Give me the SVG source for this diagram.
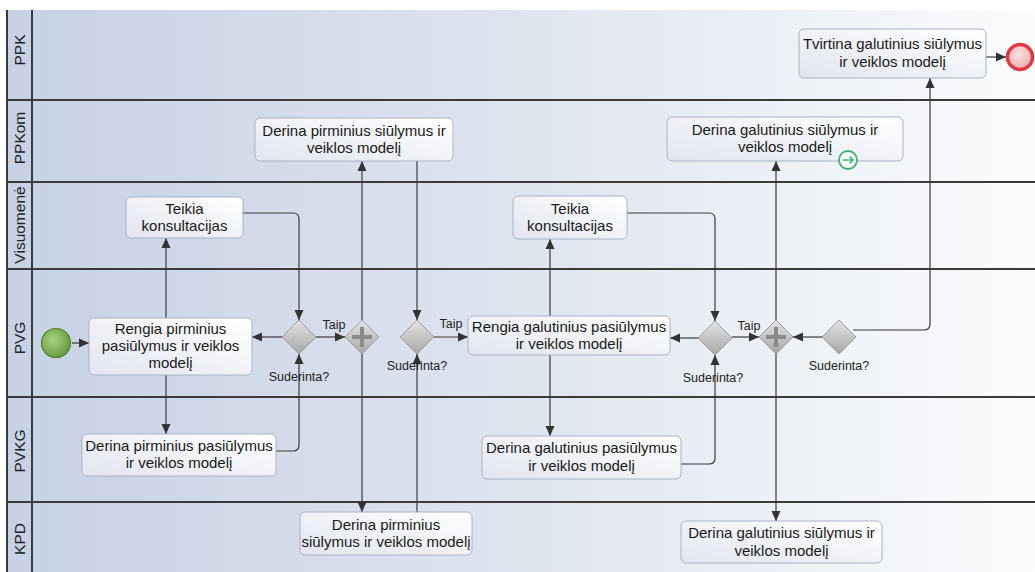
<svg xmlns="http://www.w3.org/2000/svg" width="1035" height="572" viewBox="0 0 1035 572">
<defs>
<linearGradient id="bg" x1="0" y1="0" x2="1" y2="0">
<stop offset="0" stop-color="#c6d1e4"/>
<stop offset="0.5" stop-color="#dfe5ef"/>
<stop offset="1" stop-color="#fbfcfd"/>
</linearGradient>
<linearGradient id="task" x1="0" y1="1" x2="1" y2="0">
<stop offset="0" stop-color="#e2e5f0"/>
<stop offset="1" stop-color="#ffffff"/>
</linearGradient>
<linearGradient id="gw" x1="0" y1="0" x2="0" y2="1">
<stop offset="0" stop-color="#e4e4e4"/>
<stop offset="1" stop-color="#a6a6a6"/>
</linearGradient>
<radialGradient id="startG" cx="0.4" cy="0.4" r="0.65">
<stop offset="0" stop-color="#a9d181"/>
<stop offset="1" stop-color="#64993a"/>
</radialGradient>
<radialGradient id="endG" cx="0.45" cy="0.4" r="0.65">
<stop offset="0" stop-color="#fbe3e5"/>
<stop offset="1" stop-color="#e7a6ab"/>
</radialGradient>
<marker id="arr" markerUnits="userSpaceOnUse" markerWidth="10" markerHeight="10" refX="10" refY="5" orient="auto">
<path d="M0,0.5 L10,5 L0,9.5 z" fill="#333"/>
</marker>
</defs>
<style>
.lane{stroke:#3a3a3a;stroke-width:2;fill:none}
.lbl{font-family:"Liberation Sans",Arial,sans-serif;font-size:15.5px;fill:#222;text-anchor:middle}
.t{font-family:"Liberation Sans",Arial,sans-serif;font-size:15px;fill:#1a1a1a;text-anchor:middle}
.s{font-family:"Liberation Sans",Arial,sans-serif;font-size:12.5px;fill:#222;text-anchor:middle}
.box{fill:url(#task);stroke:#aab2c4;stroke-width:1}
.gw{fill:url(#gw);stroke:#9c9c9c;stroke-width:1}
.plus{stroke:#8a8a8a;stroke-width:4;fill:none}
.c{fill:none;stroke:#3a3a3a;stroke-width:1.2;marker-end:url(#arr)}
</style>
<rect x="0" y="0" width="1035" height="572" fill="#ffffff"/>
<rect x="7" y="10" width="1040" height="570" fill="url(#bg)"/>
<g id="pool">
<line class="lane" x1="7" y1="10" x2="7" y2="572"/>
<line class="lane" x1="32" y1="10" x2="32" y2="572"/>
<line class="lane" x1="7" y1="100" x2="1035" y2="100"/>
<line class="lane" x1="7" y1="182" x2="1035" y2="182"/>
<line class="lane" x1="7" y1="269" x2="1035" y2="269"/>
<line class="lane" x1="7" y1="397" x2="1035" y2="397"/>
<line class="lane" x1="7" y1="502" x2="1035" y2="502"/>
<text class="lbl" transform="translate(25,50) rotate(-90)">PPK</text>
<text class="lbl" transform="translate(25,138) rotate(-90)">PPKom</text>
<text class="lbl" transform="translate(25,225) rotate(-90)">Visuomenė</text>
<text class="lbl" transform="translate(25,338) rotate(-90)">PVG</text>
<text class="lbl" transform="translate(25,451) rotate(-90)">PVKG</text>
<text class="lbl" transform="translate(25,539) rotate(-90)">KPD</text>
</g>
<g id="connectors">
<path class="c" d="M72,343 H89"/>
<path class="c" d="M166,318 V238"/>
<path class="c" d="M166,375 V434"/>
<path class="c" d="M243,213 H293 Q299,213 299,219 V320"/>
<path class="c" d="M276,451 H293 Q299,451 299,445 V354"/>
<path class="c" d="M282,337 H252"/>
<path class="c" d="M316,337 H345"/>
<path class="c" d="M362,320 V161"/>
<path class="c" d="M362,354 V512"/>
<path class="c" d="M417,161 V320"/>
<path class="c" d="M417,512 V354"/>
<path class="c" d="M434,337 H468"/>
<path class="c" d="M550,316 V239"/>
<path class="c" d="M550,355 V436"/>
<path class="c" d="M627,213 H709 Q715,213 715,219 V321"/>
<path class="c" d="M681,464 H709 Q715,464 715,458 V355"/>
<path class="c" d="M698,338 H670"/>
<path class="c" d="M732,337 H759"/>
<path class="c" d="M776,320 V161"/>
<path class="c" d="M776,354 V521"/>
<path class="c" d="M822,337 H793"/>
<path class="c" d="M853,330 H924 Q930,330 930,324 V78"/>
<path class="c" d="M986,57 H1006"/>
<text class="s" x="334" y="329">Taip</text>
<text class="s" x="451" y="328">Taip</text>
<text class="s" x="749" y="330">Taip</text>
</g>
<g id="start">
<circle cx="56" cy="343" r="14.5" fill="url(#startG)" stroke="#557f33" stroke-width="1.2"/>
</g>
<g id="rengia-pirm">
<rect class="box" x="89" y="318" width="163" height="57" rx="5"/>
<text class="t" x="170.5" y="334">Rengia pirminius</text>
<text class="t" x="170.5" y="351">pasiūlymus ir veiklos</text>
<text class="t" x="170.5" y="368">modelį</text>
</g>
<g id="teikia-1">
<rect class="box" x="126" y="197" width="117" height="41" rx="5"/>
<text class="t" x="184.5" y="214">Teikia</text>
<text class="t" x="184.5" y="231">konsultacijas</text>
</g>
<g id="derina-pvkg-1">
<rect class="box" x="82" y="434" width="194" height="42" rx="5"/>
<text class="t" x="179" y="451">Derina pirminius pasiūlymus</text>
<text class="t" x="179" y="468">ir veiklos modelį</text>
</g>
<g id="gw1">
<path class="gw" d="M299,320 L316,337 L299,354 L282,337 z"/>
<text class="s" x="299" y="381">Suderinta?</text>
</g>
<g id="par1">
<path class="gw" d="M362,320 L379,337 L362,354 L345,337 z"/>
<path class="plus" d="M352,337 H372 M362,327 V347"/>
</g>
<g id="derina-ppkom-1">
<rect class="box" x="255" y="118" width="198" height="43" rx="5"/>
<text class="t" x="354" y="136">Derina pirminius siūlymus ir</text>
<text class="t" x="354" y="153">veiklos modelį</text>
</g>
<g id="derina-kpd-1">
<rect class="box" x="300" y="512" width="172" height="43" rx="5"/>
<text class="t" x="386" y="530">Derina pirminius</text>
<text class="t" x="386" y="547">siūlymus ir veiklos modelį</text>
</g>
<g id="gw2">
<path class="gw" d="M417,320 L434,337 L417,354 L400,337 z"/>
<text class="s" x="417" y="370">Suderinta?</text>
</g>
<g id="rengia-gal">
<rect class="box" x="468" y="316" width="202" height="39" rx="5"/>
<text class="t" x="569" y="332">Rengia galutinius pasiūlymus</text>
<text class="t" x="569" y="349">ir veiklos modelį</text>
</g>
<g id="teikia-2">
<rect class="box" x="513" y="196" width="114" height="43" rx="5"/>
<text class="t" x="570" y="214">Teikia</text>
<text class="t" x="570" y="231">konsultacijas</text>
</g>
<g id="derina-pvkg-2">
<rect class="box" x="482" y="436" width="199" height="43" rx="5"/>
<text class="t" x="581.5" y="453">Derina galutinius pasiūlymus</text>
<text class="t" x="581.5" y="471">ir veiklos modelį</text>
</g>
<g id="gw3">
<path class="gw" d="M715,321 L732,338 L715,355 L698,338 z"/>
<text class="s" x="713" y="382">Suderinta?</text>
</g>
<g id="par2">
<path class="gw" d="M776,320 L793,337 L776,354 L759,337 z"/>
<path class="plus" d="M766,337 H786 M776,327 V347"/>
</g>
<g id="gw4">
<path class="gw" d="M839,320 L856,337 L839,354 L822,337 z"/>
<text class="s" x="839" y="370">Suderinta?</text>
</g>
<g id="derina-ppkom-2">
<rect class="box" x="667" y="117" width="236" height="44" rx="5"/>
<text class="t" x="785" y="135">Derina galutinius siūlymus ir</text>
<text class="t" x="785" y="152">veiklos modelį</text>
<circle cx="848" cy="160" r="9" fill="#ffffff" stroke="#3cb371" stroke-width="1.8"/>
<path d="M843,160 H853 M849.5,156.5 L853,160 L849.5,163.5" fill="none" stroke="#3cb371" stroke-width="1.6"/>
</g>
<g id="derina-kpd-2">
<rect class="box" x="681" y="521" width="201" height="42" rx="5"/>
<text class="t" x="781.5" y="538">Derina galutinius siūlymus ir</text>
<text class="t" x="781.5" y="556">veiklos modelį</text>
</g>
<g id="tvirtina">
<rect class="box" x="799" y="29" width="187" height="49" rx="5"/>
<text class="t" x="892.5" y="49">Tvirtina galutinius siūlymus</text>
<text class="t" x="892.5" y="67">ir veiklos modelį</text>
</g>
<g id="end">
<circle cx="1020" cy="57" r="12.5" fill="url(#endG)" stroke="#de3a44" stroke-width="3.5"/>
</g>
</svg>
